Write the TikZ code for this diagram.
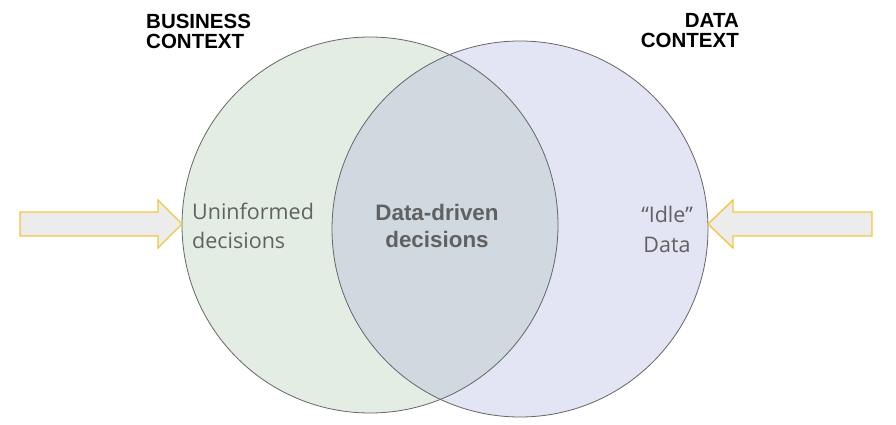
\documentclass[tikz,border=0pt]{standalone}
\usepackage{fontspec}
\setmainfont{Liberation Sans}
\newfontfamily\bodyfont{Open Sans}
\usepackage{tikz}

\definecolor{bizgreen}{HTML}{E4EDE3}
\definecolor{datablue}{HTML}{E3E4F4}
\definecolor{overlap}{HTML}{CFD9DF}
\definecolor{edgegray}{HTML}{666666}
\definecolor{textgray}{HTML}{616161}
\definecolor{arrowgold}{HTML}{F5C542}
\definecolor{arrowfill}{HTML}{ECECEC}

\tikzset{
  title/.style={font=\bfseries\fontsize{20.5}{20}\selectfont, text=black, inner sep=0pt},
  body/.style={font=\bodyfont\fontsize{21.5}{28.5}\selectfont, text=textgray, inner sep=0pt},
  fatarrow/.style={draw=arrowgold, fill=arrowfill, line width=1.4pt, line join=miter},
  ring/.style={draw=edgegray, line width=0.8pt}
}

\begin{document}
\begin{tikzpicture}[x=1pt,y=-1pt]
        \useasboundingbox (0,0) rectangle (896,425);

        % Circle centres
        \coordinate (biz) at (370,225);
        \coordinate (dat) at (520,229);

        % Filled circles and their overlap
        \fill[bizgreen] (biz) circle (188pt);
        \fill[datablue] (dat) circle (188pt);
        \begin{scope}
            \clip (biz) circle (188pt);
            \fill[overlap] (dat) circle (188pt);
        \end{scope}
        \draw[ring] (biz) circle (188pt);
        \draw[ring] (dat) circle (188pt);

        % Titles
        \node[title, anchor=north west, align=left] (biztitle) at (146,13.5) {BUSINESS\\CONTEXT};
        \node[title, anchor=north east, align=right] (dattitle) at (739,13.5) {DATA\\CONTEXT};

        % Texts inside
        \node[body, anchor=west, align=left] (uninf) at (192,226) {Uninformed\\decisions};
        \node[body, font=\bfseries\fontsize{22.4}{27.5}\selectfont, align=center] (driven) at (437,226) {Data-driven\\decisions};
        \node[body, font=\bodyfont\fontsize{21.5}{30}\selectfont, align=center] (idle) at (667,229) {“Idle”\\Data};

        % Arrows
        \draw[fatarrow] (20,212) -- (158,212) -- (158,200) -- (182,224)
            -- (158,248) -- (158,236) -- (20,236) -- cycle;
        \draw[fatarrow] (872,212) -- (733,212) -- (733,200) -- (708,224)
            -- (733,248) -- (733,236) -- (872,236) -- cycle;
    \end{tikzpicture}
\end{document}
